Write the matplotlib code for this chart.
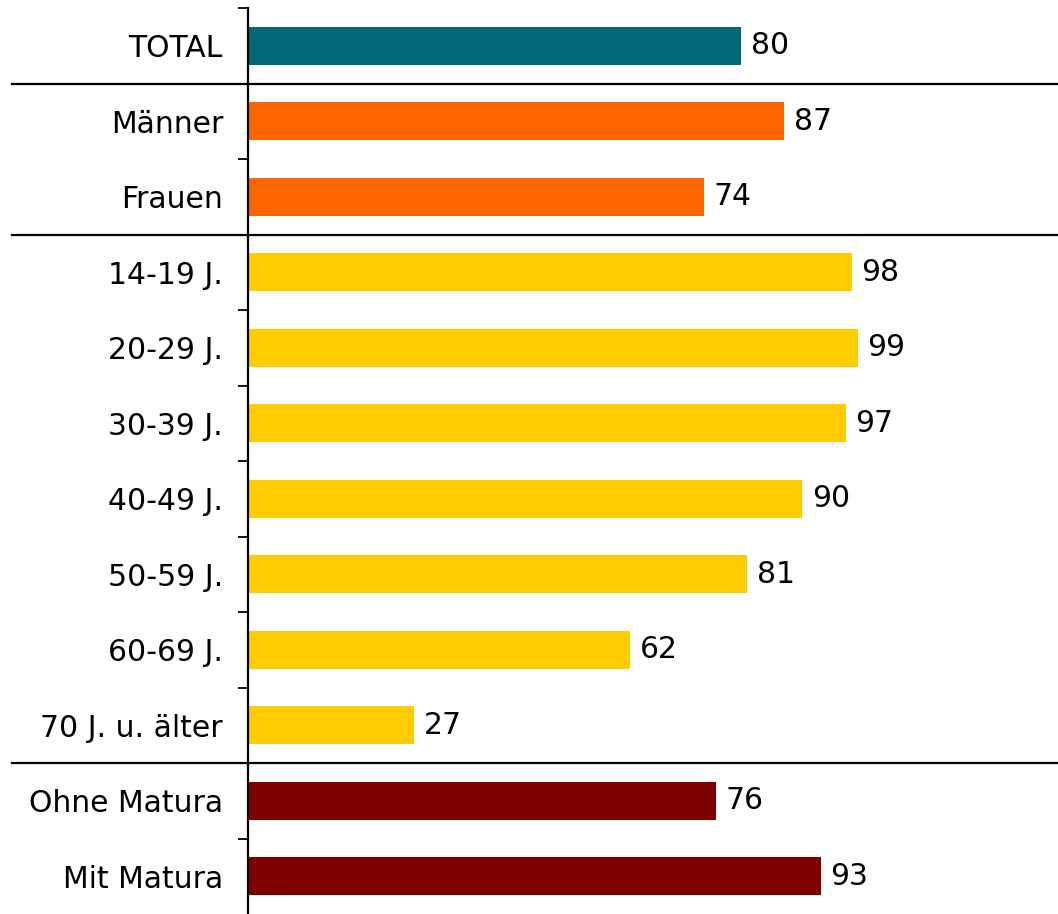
import matplotlib
matplotlib.use("Agg")
import matplotlib.pyplot as plt
import matplotlib.transforms as mtransforms

categories = ["TOTAL", "Männer", "Frauen", "14-19 J.", "20-29 J.", "30-39 J.",
              "40-49 J.", "50-59 J.", "60-69 J.", "70 J. u. älter",
              "Ohne Matura", "Mit Matura"]
values = [80, 87, 74, 98, 99, 97, 90, 81, 62, 27, 76, 93]
groups = ["total", "sex", "sex", "age", "age", "age", "age", "age", "age", "age", "edu", "edu"]
group_colors = {"total": "#006878", "sex": "#FF6600", "age": "#FFCC00", "edu": "#800000"}
separators_after = [0, 2, 9]

plt.rcParams['font.family'] = ['DejaVu Sans']

W, H = 1058, 914
fig = plt.figure(figsize=(W / 100, H / 100), dpi=100)
left_px, top_px = 248, 8
ax = fig.add_axes([left_px / W, 0, (W - left_px) / W, (H - top_px) / H])

n = len(categories)
ypos = list(range(n))
colors = [group_colors[g] for g in groups]
ax.barh(ypos, values, height=0.5, color=colors, zorder=2)

ax.set_ylim(n - 0.5, -0.5)
ax.set_xlim(0, (W - left_px) / 6.16)

for y, v in zip(ypos, values):
    ax.annotate(str(v), (v, y), xytext=(7, 0), textcoords="offset points",
                va="center", ha="left", fontsize=21.5)

# boundary ticks
ax.set_yticks([i - 0.5 for i in range(n)])
ax.set_yticklabels([])
ax.set_yticks(ypos, minor=True)
ax.set_yticklabels(categories, minor=True, fontsize=21.5)
ax.tick_params(axis="y", which="major", direction="out", length=7.5, width=1.3)
ax.tick_params(axis="y", which="minor", length=0, pad=18)
ax.set_xticks([])

for s in ["top", "right", "bottom"]:
    ax.spines[s].set_visible(False)
ax.spines["left"].set_linewidth(1.6)

trans = mtransforms.blended_transform_factory(ax.transAxes, ax.transData)
x0 = (12 - left_px) / (W - left_px)
for i in separators_after:
    ax.plot([x0, 1], [i + 0.5, i + 0.5], transform=trans, color="black",
            lw=1.6, clip_on=False, zorder=3)

fig.savefig("out.png", dpi=100)
